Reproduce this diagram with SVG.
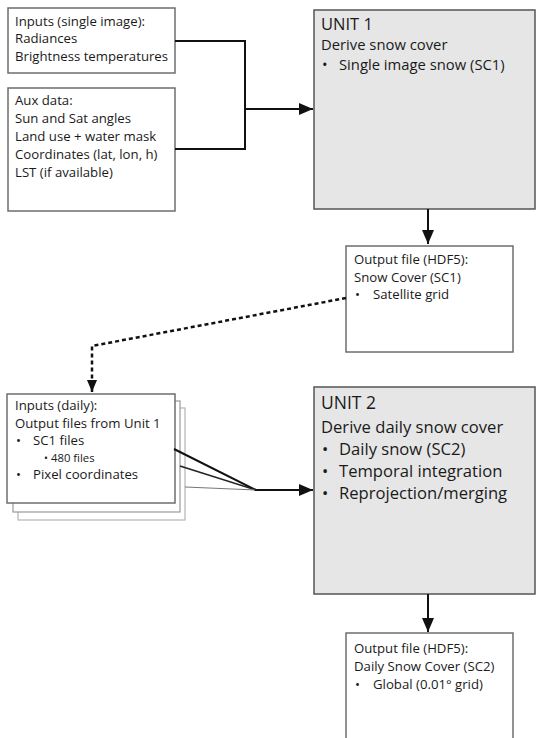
<svg xmlns="http://www.w3.org/2000/svg" width="536" height="738" viewBox="0 0 536 738">
<style>
  text { font-family: "Open Sans", "DejaVu Sans", sans-serif; fill: #1a1a1a; }
  .box { fill: #ffffff; stroke: #6e6e6e; stroke-width: 1.5; }
  .unit { fill: #e6e6e6; stroke: #555555; stroke-width: 1.5; }
  .sm { font-size: 13.2px; }
  .u1 { font-size: 14.8px; }
  .u2 { font-size: 16.6px; }
  .line { fill: none; stroke: #111; stroke-width: 2; }
</style>
<defs>
  <marker id="arr" viewBox="0 0 14 12" refX="14" refY="6" markerWidth="14" markerHeight="12" markerUnits="userSpaceOnUse" orient="auto">
    <path d="M0,0 L14,6 L0,12 z" fill="#111"/>
  </marker>
  <marker id="arrs" viewBox="0 0 12 10" refX="12" refY="5" markerWidth="12" markerHeight="10" markerUnits="userSpaceOnUse" orient="auto">
    <path d="M0,0 L12,5 L0,10 z" fill="#111"/>
  </marker>
</defs>
<rect width="536" height="738" fill="#ffffff"/>

<g id="inputs-single">
  <rect class="box" x="8" y="8" width="167" height="65"/>
  <text class="sm" x="15" y="26">Inputs (single image):</text>
  <text class="sm" x="15" y="43">Radiances</text>
  <text class="sm" x="15" y="61">Brightness temperatures</text>
</g>

<g id="aux-data">
  <rect class="box" x="8" y="88" width="167" height="123"/>
  <text class="sm" x="15" y="105">Aux data:</text>
  <text class="sm" x="15" y="123">Sun and Sat angles</text>
  <text class="sm" x="15" y="141">Land use + water mask</text>
  <text class="sm" x="15" y="159">Coordinates (lat, lon, h)</text>
  <text class="sm" x="15" y="177">LST (if available)</text>
</g>

<g id="unit1">
  <rect class="unit" x="314" y="10" width="221" height="199"/>
  <text x="321" y="30" font-size="16.5">UNIT 1</text>
  <text class="u1" x="321" y="50">Derive snow cover</text>
  <text class="u1" x="322" y="70">•</text>
  <text class="u1" x="339" y="70">Single image snow (SC1)</text>
</g>

<g id="output1">
  <rect class="box" x="346" y="246" width="167" height="106"/>
  <text class="sm" x="354" y="264">Output file (HDF5):</text>
  <text class="sm" x="354" y="282">Snow Cover (SC1)</text>
  <text class="sm" x="355" y="299">•</text>
  <text class="sm" x="373" y="299">Satellite grid</text>
</g>

<g id="inputs-daily">
  <rect x="18" y="408" width="167" height="112" fill="#fff" stroke="#b5b5b5" stroke-width="1.2"/>
  <rect x="13" y="401" width="167" height="111" fill="#fff" stroke="#999" stroke-width="1.2"/>
  <rect class="box" x="7" y="394" width="168" height="109"/>
  <text class="sm" x="15" y="410">Inputs (daily):</text>
  <text class="sm" x="15" y="428">Output files from Unit 1</text>
  <text class="sm" x="16" y="445">•</text>
  <text class="sm" x="33" y="445">SC1 files</text>
  <text font-size="10.5" x="44" y="462">•</text>
  <text font-size="11.3" x="51" y="462">480 files</text>
  <text class="sm" x="16" y="479">•</text>
  <text class="sm" x="33" y="479">Pixel coordinates</text>
</g>

<g id="unit2">
  <rect class="unit" x="314" y="387" width="221" height="207"/>
  <text x="321" y="409" font-size="17.5">UNIT 2</text>
  <text class="u2" x="321" y="433">Derive daily snow cover</text>
  <text class="u2" x="322" y="455">•</text>
  <text class="u2" x="339" y="455">Daily snow (SC2)</text>
  <text class="u2" x="322" y="477">•</text>
  <text class="u2" x="339" y="477">Temporal integration</text>
  <text class="u2" x="322" y="499">•</text>
  <text class="u2" x="339" y="499">Reprojection/merging</text>
</g>

<g id="output2">
  <rect class="box" x="346" y="633" width="167" height="115"/>
  <text class="sm" x="354" y="653">Output file (HDF5):</text>
  <text class="sm" x="354" y="671">Daily Snow Cover (SC2)</text>
  <text class="sm" x="355" y="689">•</text>
  <text class="sm" x="373" y="689">Global (0.01° grid)</text>
</g>

<g id="connectors">
  <path class="line" d="M175,41 H245 V149 H175"/>
  <path class="line" d="M245,109 H313" marker-end="url(#arr)"/>
  <path class="line" d="M428,209 V244" marker-end="url(#arr)"/>
  <path d="M346,298 L92,346 V392" fill="none" stroke="#111" stroke-width="2.5" stroke-dasharray="4 3" marker-end="url(#arrs)"/>
  <path d="M174,449 L256,490" fill="none" stroke="#111" stroke-width="2"/>
  <path d="M180,466 L256,490" fill="none" stroke="#222" stroke-width="1.6"/>
  <path d="M185,487 L256,490" fill="none" stroke="#777" stroke-width="1.2"/>
  <path class="line" d="M255,490 H313" marker-end="url(#arr)"/>
  <path class="line" d="M428,594 V632" marker-end="url(#arr)"/>
</g>
</svg>
